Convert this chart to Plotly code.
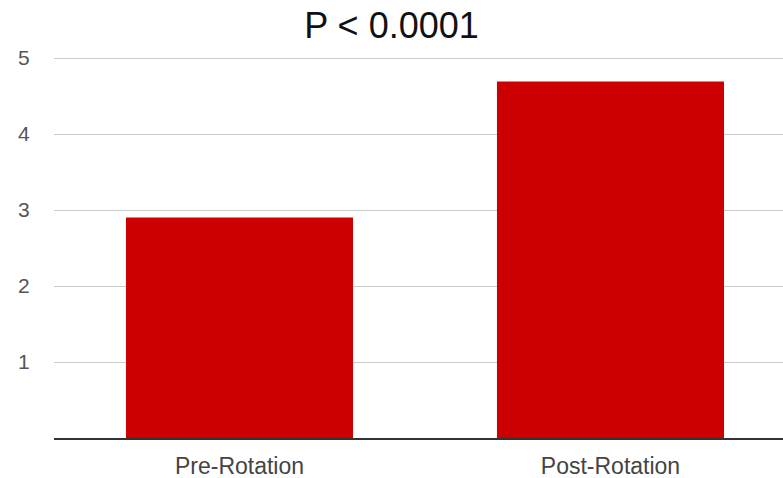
import plotly.graph_objects as go

categories = ["Pre-Rotation", "Post-Rotation"]
values = [2.90, 4.69]
y_ticks = [1, 2, 3, 4, 5]
title_text = "P < 0.0001"

FONT = "Arial, Liberation Sans, sans-serif"

fig = go.Figure(go.Bar(x=categories, y=values, marker=dict(color="#cc0000", line=dict(width=0))))

fig.update_layout(
    width=783, height=478,
    margin=dict(l=54, r=0, t=54, b=40),
    paper_bgcolor="white", plot_bgcolor="white",
    bargap=0.388,
    showlegend=False,
    title=dict(text=title_text, x=0.5, xanchor="center", xref="container",
               y=1 - 25 / 478, yanchor="middle", yref="container",
               font=dict(family=FONT, size=36, color="#111")),
    xaxis=dict(range=[-0.5, 1.465], showgrid=False, showline=True, linecolor="#333",
               linewidth=1.5, ticks="outside", ticklen=7, tickcolor="rgba(0,0,0,0)",
               automargin=False,
               tickfont=dict(family=FONT, size=23, color="#444")),
    yaxis=dict(range=[0, 5.0526], tickvals=y_ticks, showgrid=True, gridcolor="#cccccc",
               gridwidth=1, zeroline=False, showline=False, ticks="outside", ticklen=19,
               automargin=False,
               tickcolor="rgba(0,0,0,0)", tickfont=dict(family=FONT, size=21, color="#555")),
)

fig.write_html("out.html", config={"displayModeBar": False},
               post_script="document.body.style.margin='0';")
